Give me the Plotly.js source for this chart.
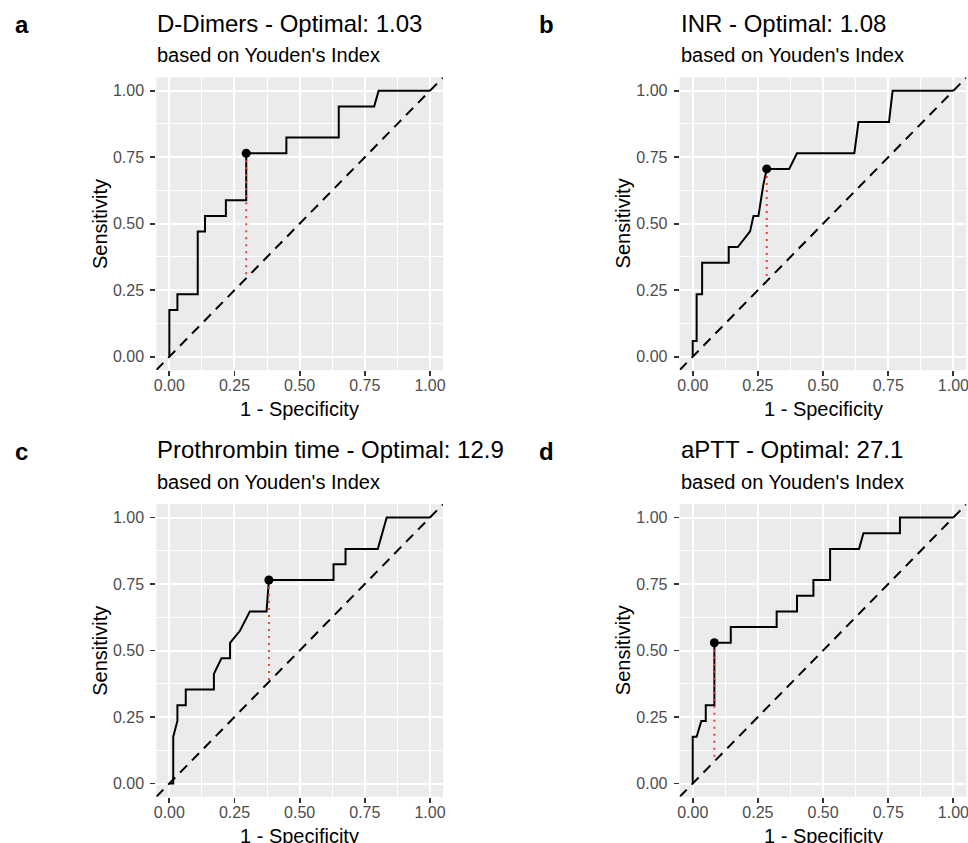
<!DOCTYPE html>
<html>
<head>
<meta charset="utf-8">
<script src="https://cdn.plot.ly/plotly-3.0.1.min.js"></script>
<style>html,body{margin:0;padding:0;background:#fff;}#chart{width:968px;height:843px;}</style>
</head>
<body>
<div id="chart"></div>
<script>
// ---- data ----
const panelLabels = ["a", "b", "c", "d"];
const titles = ["D-Dimers - Optimal: 1.03", "INR - Optimal: 1.08", "Prothrombin time - Optimal: 12.9", "aPTT - Optimal: 27.1"];
const subtitle = "based on Youden's Index";
const tickVals = [0, 0.25, 0.5, 0.75, 1];
const tickText = ["0.00", "0.25", "0.50", "0.75", "1.00"];

const fprA = [0, 0, 0.031, 0.031, 0.109, 0.109, 0.137, 0.137, 0.217, 0.217, 0.295, 0.295, 0.449, 0.449, 0.65, 0.65, 0.786, 0.803, 1];
const tprA = [0, 0.176, 0.176, 0.235, 0.235, 0.471, 0.471, 0.529, 0.529, 0.588, 0.588, 0.765, 0.765, 0.824, 0.824, 0.941, 0.941, 1, 1];
const optA = [0.295, 0.765];

const fprB = [0, 0, 0.015, 0.015, 0.036, 0.036, 0.138, 0.138, 0.173, 0.22, 0.233, 0.252, 0.271, 0.284, 0.37, 0.40, 0.62, 0.627, 0.636, 0.753, 0.767, 1];
const tprB = [0, 0.059, 0.059, 0.235, 0.235, 0.353, 0.353, 0.412, 0.412, 0.471, 0.529, 0.529, 0.647, 0.706, 0.706, 0.765, 0.765, 0.824, 0.882, 0.882, 1, 1];
const optB = [0.284, 0.706];

const fprC = [0, 0.015, 0.015, 0.031, 0.031, 0.063, 0.063, 0.171, 0.171, 0.2, 0.233, 0.233, 0.271, 0.309, 0.373, 0.382, 0.63, 0.63, 0.676, 0.676, 0.80, 0.834, 1];
const tprC = [0, 0, 0.176, 0.235, 0.294, 0.294, 0.353, 0.353, 0.412, 0.471, 0.471, 0.529, 0.574, 0.647, 0.647, 0.765, 0.765, 0.824, 0.824, 0.882, 0.882, 1, 1];
const optC = [0.382, 0.765];

const fprD = [0, 0, 0.015, 0.033, 0.05, 0.05, 0.083, 0.083, 0.146, 0.146, 0.322, 0.322, 0.40, 0.40, 0.463, 0.463, 0.527, 0.527, 0.638, 0.655, 0.795, 0.795, 1];
const tprD = [0, 0.176, 0.176, 0.235, 0.235, 0.294, 0.294, 0.529, 0.529, 0.588, 0.588, 0.647, 0.647, 0.706, 0.706, 0.765, 0.765, 0.882, 0.882, 0.941, 0.941, 1, 1];
const optD = [0.083, 0.529];

const fprs = [fprA, fprB, fprC, fprD];
const tprs = [tprA, tprB, tprC, tprD];
const opts = [optA, optB, optC, optD];

// ---- layout geometry (pixels) ----
const W = 968, H = 843;
const axRange = [-0.05, 1.05];
const colLeft = [156.3, 679.7], panelW = 286.7;
const rowTop = [77.4, 504.2], panelH = 292.6;
const px = v => v / W, py = v => 1 - v / H;

const traces = [];
const layout = {
  width: W, height: H,
  margin: {l: 0, r: 0, t: 0, b: 0},
  paper_bgcolor: "#FFFFFF",
  plot_bgcolor: "#EBEBEB",
  showlegend: false,
  font: {family: "Liberation Sans, Arial, sans-serif", color: "#000"},
  annotations: []
};

for (let i = 0; i < 4; i++) {
  const col = i % 2, row = Math.floor(i / 2);
  const sfx = i === 0 ? "" : String(i + 1);
  const xa = "x" + sfx, ya = "y" + sfx;
  const L = colLeft[col], T = rowTop[row];
  const axBase = {
    range: axRange, tickvals: tickVals, ticktext: tickText,
    showgrid: true, gridcolor: "#FFFFFF", gridwidth: 2,
    minor: {dtick: 0.125, tick0: 0, showgrid: true, gridcolor: "#FFFFFF", gridwidth: 1, ticks: ""},
    zeroline: false, showline: false,
    ticks: "outside", ticklen: 5, tickwidth: 1.8, tickcolor: "#333333",
    tickfont: {size: 16, color: "#4D4D4D"},
    ticklabeloverflow: "allow",
    fixedrange: true
  };
  layout["xaxis" + sfx] = Object.assign({}, axBase, {
    domain: [px(L), px(L + panelW)], anchor: ya, ticklabelstandoff: -4
  });
  layout["yaxis" + sfx] = Object.assign({}, axBase, {
    domain: [py(T + panelH), py(T)], anchor: xa, ticklabelstandoff: 3
  });

  // diagonal reference
  traces.push({x: axRange, y: axRange, xaxis: xa, yaxis: ya, mode: "lines",
    line: {color: "#000", width: 2, dash: "10px,7px"}, hoverinfo: "skip"});
  // ROC curve
  traces.push({x: fprs[i], y: tprs[i], xaxis: xa, yaxis: ya, mode: "lines",
    line: {color: "#000", width: 2}, hoverinfo: "skip"});
  // Youden segment
  const o = opts[i];
  traces.push({x: [o[0], o[0]], y: [o[1], o[0]], xaxis: xa, yaxis: ya, mode: "lines",
    line: {color: "#F03B36", width: 2, dash: "2px,5px"}, hoverinfo: "skip"});
  // optimal point
  traces.push({x: [o[0]], y: [o[1]], xaxis: xa, yaxis: ya, mode: "markers",
    marker: {color: "#000", size: 9}, hoverinfo: "skip"});

  const off = row * 427;
  // panel label
  layout.annotations.push({text: "<b>" + panelLabels[i] + "</b>", xref: "paper", yref: "paper",
    x: px(L - 143), y: py(24 + off), xanchor: "left", yanchor: "middle", showarrow: false,
    font: {size: 24, color: "#000"}});
  // title
  layout.annotations.push({text: titles[i], xref: "paper", yref: "paper",
    x: px(L - 1), y: py(23 + off), xanchor: "left", yanchor: "middle", showarrow: false,
    font: {size: 24, color: "#000"}});
  // subtitle
  layout.annotations.push({text: subtitle, xref: "paper", yref: "paper",
    x: px(L - 1), y: py(55 + off), xanchor: "left", yanchor: "middle", showarrow: false,
    font: {size: 20, color: "#000"}});
  // x title
  layout.annotations.push({text: "1 - Specificity", xref: "paper", yref: "paper",
    x: px(L + panelW / 2), y: py(409 + off), xanchor: "center", yanchor: "middle", showarrow: false,
    font: {size: 20, color: "#000"}});
  // y title
  layout.annotations.push({text: "Sensitivity", xref: "paper", yref: "paper",
    x: px(L - 57), y: py(T + panelH / 2), xanchor: "center", yanchor: "middle", showarrow: false,
    textangle: -90, font: {size: 20, color: "#000"}});
}

Plotly.newPlot("chart", traces, layout, {staticPlot: true, displayModeBar: false});
</script>
</body>
</html>
